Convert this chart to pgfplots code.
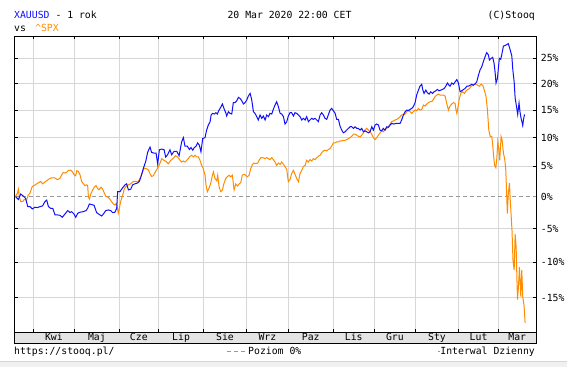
\documentclass[border=0pt]{standalone}
\usepackage{pgfplots}
\usepackage{pgfplotstable}
\pgfplotsset{compat=1.18}
\usepackage{fontspec}
\setmainfont{DejaVu Sans Mono}
\definecolor{gold}{HTML}{1010FF}
\definecolor{spx}{HTML}{FF8C00}
\definecolor{gridc}{HTML}{D6D6D6}
\definecolor{bandc}{HTML}{E4E4E4}
\definecolor{zeroc}{HTML}{999999}
\definecolor{footc}{HTML}{F0F0F0}

% XAUUSD, change in % vs start (x = trading-day index)
\pgfplotstableread{
idx p
0.6 0.0
2.0 -0.44
3.2 0.44
4.5 0.11
5.7 -0.26
6.8 -1.58
7.9 -1.58
9.1 -1.95
10.5 -1.68
11.7 -1.74
13.1 -1.58
14.4 -1.47
15.6 -0.79
16.5 -0.53
17.4 -1.58
18.5 -1.84
19.6 -1.84
20.8 -2.89
22.0 -2.89
23.3 -2.95
24.5 -3.26
25.9 -2.74
27.3 -2.21
28.5 -2.53
29.3 -2.37
30.5 -2.74
31.4 -3.26
32.4 -2.63
33.6 -2.47
35.3 -2.37
36.7 -2.21
37.5 -1.84
38.4 -1.16
39.6 -1.26
40.8 -1.37
42.1 -2.53
43.3 -2.79
44.7 -3.05
45.6 -2.74
46.8 -2.21
48.1 -2.11
49.3 -2.21
50.3 -2.53
51.5 -2.47
52.4 -1.84
52.9 0.83
54.1 0.83
55.3 1.39
56.7 1.94
57.5 2.11
58.4 1.11
59.6 1.22
60.6 1.94
61.8 2.11
63.0 2.22
64.0 2.5
64.9 3.33
66.1 4.72
67.3 5.86
68.3 7.47
69.5 8.33
70.3 7.41
71.5 7.3
72.6 7.3
73.4 5.46
74.3 7.87
75.5 7.99
76.7 7.87
77.5 6.61
78.5 7.01
79.7 7.87
80.6 7.01
81.8 7.59
83.2 7.59
84.4 6.84
85.7 9.24
86.6 10.0
87.4 8.49
88.6 8.49
89.7 7.91
90.5 8.26
91.4 7.79
92.2 8.26
93.1 8.49
93.9 9.07
94.8 8.66
95.6 7.5
96.5 9.83
97.7 10.0
98.5 11.34
99.4 12.26
100.3 12.87
100.8 14.09
101.6 14.39
102.5 14.27
103.3 14.51
104.0 14.27
104.9 15.0
105.7 15.5
106.6 16.13
107.4 15.31
108.3 14.51
108.8 13.9
109.7 14.7
110.5 14.39
111.4 14.27
112.2 16.38
113.1 16.38
113.9 16.69
114.8 17.38
115.6 17.19
116.5 16.75
117.4 16.13
118.2 16.38
119.1 16.88
119.9 17.63
120.8 18.13
121.6 17.0
122.5 14.7
123.3 14.39
124.2 13.78
125.0 13.17
125.9 14.09
126.8 13.48
127.6 13.9
128.5 13.17
129.3 14.09
130.2 13.78
131.0 14.39
131.9 14.27
132.7 15.13
133.6 15.94
134.4 16.56
135.3 15.63
136.2 14.39
137.0 14.27
137.9 13.78
138.7 12.44
139.6 12.87
140.4 13.9
141.3 14.51
142.1 14.51
143.0 13.9
143.8 14.51
144.7 14.39
145.6 14.09
146.4 13.78
147.3 13.17
148.1 13.48
149.0 13.17
149.8 13.78
150.7 12.87
151.5 13.17
152.4 13.48
153.2 13.29
154.1 13.48
155.0 13.17
155.8 12.87
156.7 14.09
157.5 14.51
158.4 14.09
159.2 13.48
160.1 13.29
160.9 14.09
161.8 15.0
162.6 15.31
163.5 14.88
164.4 14.39
165.2 13.29
166.1 13.29
166.9 12.07
167.8 11.34
168.6 10.85
169.5 11.04
170.3 11.34
171.2 11.65
172.1 11.95
172.9 11.95
173.8 11.65
174.6 11.95
175.5 11.65
176.3 11.65
177.2 11.34
178.0 11.65
178.9 11.04
179.7 11.22
180.6 11.04
181.5 10.85
182.3 11.04
183.2 11.95
184.0 11.34
184.9 12.26
185.7 12.44
186.6 12.26
187.4 11.34
188.3 11.22
189.1 11.65
190.0 11.34
190.9 11.95
191.7 11.83
192.6 12.26
193.4 12.56
194.3 12.44
196.0 12.56
197.7 12.56
198.5 13.17
199.4 14.09
200.3 14.7
201.1 15.0
202.0 14.88
202.8 15.13
203.7 15.31
204.5 15.63
205.4 16.38
206.2 17.81
207.1 18.75
207.9 19.5
208.8 19.88
209.3 18.88
210.0 18.13
210.9 18.75
211.7 18.25
212.6 18.0
213.4 18.44
214.3 18.13
215.1 18.44
216.0 18.63
216.8 18.88
217.7 18.63
218.5 18.75
219.4 18.88
220.3 19.06
221.1 19.5
222.0 20.13
222.8 19.69
223.3 19.5
224.2 20.13
225.1 19.88
225.9 20.33
226.8 20.8
227.6 20.13
228.5 18.44
229.3 18.63
230.2 18.88
231.0 19.06
231.9 19.5
232.7 19.5
233.6 19.69
234.4 19.88
235.3 19.69
236.2 20.0
237.0 20.33
237.9 21.67
238.7 22.67
239.6 23.33
240.4 24.33
241.3 25.34
242.1 26.17
243.0 25.69
243.5 24.67
244.4 25.0
245.2 25.21
245.9 24.0
246.4 22.33
246.9 20.13
247.6 21.0
248.1 23.0
248.6 25.0
249.3 24.8
249.8 25.69
250.7 27.5
251.5 27.6
252.4 27.8
253.2 28.0
254.1 26.8
255.0 25.5
255.5 22.74
256.2 20.34
256.7 17.26
257.5 15.43
258.0 14.2
258.7 16.34
259.2 14.63
259.7 13.58
260.1 12.96
260.6 12.16
261.0 13.27
261.5 14.2
}\goldtab

% ^SPX, change in % vs start
\pgfplotstableread{
idx p
0.6 0.11
1.5 0.56
2.0 1.22
2.5 0.0
3.2 -0.79
4.2 -0.79
5.0 -0.44
6.2 -0.53
7.1 0.28
7.9 0.56
9.1 1.67
10.2 1.83
11.4 2.11
12.6 2.33
13.4 2.5
14.4 2.11
15.3 2.33
16.5 2.61
17.7 2.89
18.7 3.06
19.9 3.11
20.8 3.06
22.0 2.78
23.3 3.0
24.2 3.61
25.0 4.0
25.9 3.89
26.8 4.06
27.6 4.33
28.8 4.39
29.8 4.06
30.5 3.61
31.4 3.44
31.9 4.28
32.7 4.17
33.6 3.61
34.4 2.5
35.3 2.11
36.2 1.78
37.0 1.94
37.5 1.83
37.9 0.0
38.4 -0.37
39.1 0.44
40.1 1.11
40.9 1.56
41.8 1.83
42.5 1.39
43.3 1.11
44.4 1.56
45.2 1.22
46.1 0.56
46.9 0.0
47.6 0.0
48.6 -0.26
49.8 -0.79
50.7 -1.16
51.5 -1.32
52.4 -1.05
53.2 -2.63
53.8 -1.84
54.4 -0.79
55.5 0.28
56.3 1.28
57.2 1.67
58.4 1.94
59.6 2.11
61.0 2.5
62.1 2.5
63.2 2.39
64.0 2.78
65.2 3.61
66.4 4.72
67.8 4.61
68.6 4.44
69.5 3.78
70.3 3.33
71.2 3.44
72.1 4.0
72.9 4.44
74.1 5.17
75.5 6.32
76.7 6.03
77.7 5.86
78.9 5.46
80.1 6.03
81.5 6.44
82.6 6.84
83.7 6.61
84.9 6.03
85.7 5.76
86.6 5.93
87.4 5.76
88.3 6.05
89.1 6.34
90.0 6.74
90.9 6.92
91.7 6.63
92.6 6.92
93.4 6.63
94.3 6.63
95.1 6.05
96.0 5.17
96.8 4.62
97.7 3.53
98.2 1.9
98.9 0.82
99.7 1.36
100.6 2.17
101.5 3.53
102.0 4.08
102.8 2.99
103.7 2.61
104.2 3.53
104.9 1.63
105.7 0.82
106.6 1.09
107.4 2.17
108.3 2.99
109.1 3.26
110.0 3.53
110.9 3.26
111.7 3.53
112.6 1.09
113.4 2.07
114.3 1.74
115.1 2.07
116.0 2.28
116.8 3.53
117.7 3.7
118.5 3.53
119.4 3.26
120.3 3.53
121.1 4.62
122.0 5.35
122.8 5.58
123.7 5.47
124.7 5.58
125.6 6.16
126.4 6.51
127.3 6.51
128.5 6.34
129.3 6.51
130.2 6.34
131.0 6.16
131.9 6.51
132.7 6.16
133.6 5.76
134.4 5.17
135.3 5.58
136.2 5.35
137.0 5.76
137.9 5.35
138.7 5.0
139.6 4.46
140.4 2.45
141.3 2.83
142.1 3.8
143.0 4.35
143.8 3.7
144.7 2.99
145.6 2.45
146.4 3.8
147.3 4.35
148.1 5.0
149.0 5.17
149.8 6.05
150.7 5.76
151.5 6.16
152.4 5.93
153.2 6.34
154.1 6.16
155.0 6.51
155.8 6.74
156.7 6.92
157.5 7.33
158.4 7.67
159.2 7.79
160.1 7.67
160.9 7.91
161.8 8.08
162.6 8.49
163.5 9.07
164.4 9.07
165.2 9.24
166.1 9.24
166.9 9.42
167.8 9.42
168.6 9.53
169.5 9.53
170.3 9.65
171.2 9.83
172.1 10.0
172.9 10.24
173.8 10.61
174.6 10.61
175.5 10.43
176.3 10.24
177.2 10.12
178.0 10.43
178.9 10.85
179.7 11.34
180.6 11.65
181.5 11.34
182.3 11.04
183.2 10.61
184.0 10.0
184.9 9.65
185.7 10.0
186.6 10.43
187.4 10.85
188.3 11.22
189.1 11.04
190.0 11.46
190.9 11.65
191.7 11.95
192.6 12.44
193.4 12.87
194.3 12.99
195.1 13.17
196.0 13.29
196.8 13.48
197.7 13.78
198.5 14.09
199.4 14.09
200.3 14.27
201.1 14.7
202.0 15.0
202.8 14.7
203.7 14.39
204.5 14.7
205.4 15.0
206.2 14.88
207.1 15.31
207.9 15.0
208.8 15.13
209.7 15.94
210.5 15.75
211.4 16.13
212.2 16.38
213.1 16.56
213.9 16.56
214.8 17.0
215.6 17.5
216.5 17.81
217.4 18.0
218.2 17.81
219.1 17.81
219.9 17.81
220.8 17.63
221.6 16.25
222.5 15.0
223.3 15.75
224.2 16.13
225.1 16.38
225.9 16.25
226.4 15.0
226.8 14.39
227.3 15.31
228.1 17.19
229.0 18.25
229.8 18.44
230.7 18.13
231.5 18.63
232.4 18.88
233.3 19.06
234.1 19.5
235.0 19.69
235.8 19.88
236.7 19.88
237.5 19.69
238.4 19.5
239.2 19.88
240.1 19.69
240.9 18.75
241.8 17.5
242.5 15.0
243.2 11.34
243.9 10.24
244.7 10.24
245.2 8.66
245.7 6.63
246.2 5.17
246.8 4.79
247.3 6.34
247.8 9.24
248.3 8.08
248.8 6.05
249.5 10.19
250.0 9.6
250.7 7.3
251.4 6.15
251.9 4.44
252.4 0.0
252.7 -2.69
253.2 0.56
253.8 2.22
254.1 0.0
254.6 -2.69
255.1 -5.34
255.6 -9.75
256.2 -11.16
256.7 -5.83
257.2 -7.79
257.9 -15.3
258.4 -13.52
258.9 -10.74
259.6 -14.86
260.1 -11.16
260.6 -14.86
261.3 -16.2
261.8 -18.4
}\spxtab

\begin{document}
\fontsize{9.8}{11}\selectfont
\begin{tikzpicture}
\path[use as bounding box] (-14.5pt,-35pt) rectangle (552.5pt,332pt);
% footer strip
\fill[footc] (-14.5pt,-35pt) rectangle (552.5pt,-29pt);
\draw[gridc, line width=1pt] (-14.5pt,-29pt) -- (552.5pt,-29pt);
% month band
\fill[bandc] (0pt,-11pt) rectangle (521.5pt,0pt);
\draw[line width=1pt] (0pt,-11pt) rectangle (521.5pt,0pt);
\begin{axis}[
  at={(0pt,0pt)}, anchor=south west,
  scale only axis, width=521.5pt, height=296pt,
  xmin=0, xmax=267.4,
  ymode=log, ymin=0.804, ymax=1.2959,
  axis line style={line width=1pt},
  xtick={9.6,30.8,53.7,73.8,97.0,118.9,140.4,163.4,184.5,205.6,227.7,248.2},
  xticklabels={},
  extra x ticks={20.2,42.25,63.75,85.4,107.95,129.65,151.9,173.95,195.05,216.65,237.95,257.8},
  extra x tick labels={Kwi,Maj,Cze,Lip,Sie,Wrz,Paz,Lis,Gru,Sty,Lut,Mar},
  extra x tick style={major tick length=0pt, xmajorgrids=false,
     xticklabel style={anchor=base, inner sep=0pt, yshift=-8pt}},
  ytick={0.85,0.9,0.95,1.05,1.1,1.15,1.2,1.25},
  yticklabels={-15\%,-10\%,-5\%,5\%,10\%,15\%,20\%,25\%},
  extra y ticks={1},
  extra y tick labels={0\%},
  extra y tick style={ymajorgrids=false},
  minor ytick={},
  yticklabel pos=right,
  ytick pos=both, xtick pos=both,
  tick align=inside, major tick length=3pt,
  tick style={black, line width=1pt},
  yticklabel style={anchor=west, inner sep=0pt, xshift=4.7pt},
  xmajorgrids, ymajorgrids,
  grid style={gridc, line width=1pt},
]
\addplot[forget plot, zeroc, line width=1pt, dash pattern=on 4pt off 3pt] coordinates {(0,1) (267.4,1)};
\addplot[spx, line width=1pt] table[x=idx, y expr=1+\thisrow{p}/100] {\spxtab};
\addplot[gold, line width=1pt] table[x=idx, y expr=1+\thisrow{p}/100] {\goldtab};
\end{axis}
% header
\node[anchor=base west, inner sep=0pt] at (-0.5pt,313.7pt) {\textcolor{gold}{XAUUSD} - 1 rok};
\node[anchor=base west, inner sep=0pt] at (-0.5pt,300.3pt) {vs};
\node[anchor=base west, inner sep=0pt, text=spx] at (20.5pt,300.3pt) {\textasciicircum SPX};
\node[anchor=base, inner sep=0pt] at (275pt,313.7pt) {20 Mar 2020 22:00 CET};
\node[anchor=base east, inner sep=0pt] at (520.5pt,313.7pt) {(C)Stooq};
% footer
\node[anchor=base west, inner sep=0pt] at (-0.5pt,-22.5pt) {https://stooq.pl/};
\draw[zeroc, line width=1pt, dash pattern=on 4pt off 3pt] (212.5pt,-19.5pt) -- (231.5pt,-19.5pt);
\node[anchor=base west, inner sep=0pt] at (233.5pt,-22.5pt) {Poziom 0\%};
\draw[zeroc, line width=1pt] (423.5pt,-19.5pt) -- (425.5pt,-19.5pt);
\node[anchor=base east, inner sep=0pt] at (520.5pt,-22.5pt) {Interwal Dzienny};
\end{tikzpicture}
\end{document}
